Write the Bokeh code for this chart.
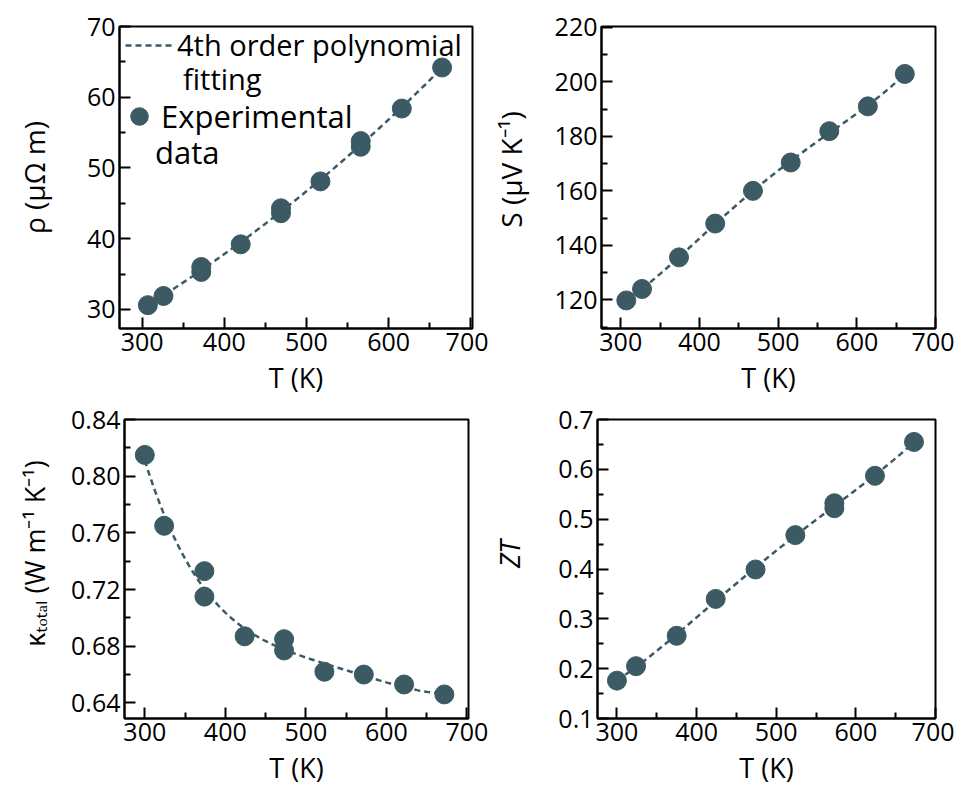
import numpy as np
from bokeh.plotting import figure
from bokeh.layouts import column, row
from bokeh.models import (Range1d, FixedTicker, PrintfTickFormatter,
                          Legend, LegendItem)
from bokeh.embed import file_html
from bokeh.resources import INLINE

# ---------------- data ----------------
T_rho = [307, 326, 372, 372, 420, 469, 469, 517, 566, 566, 616, 665]
rho = [30.6, 31.9, 35.3, 36.0, 39.2, 43.6, 44.3, 48.1, 53.0, 53.8, 58.4, 64.2]

T_S = [307, 327, 374, 420, 468, 516, 565, 614, 661]
S = [119.8, 124.0, 135.6, 148.0, 160.0, 170.4, 181.9, 191.0, 202.9]

T_k = [300, 324, 374, 374, 424, 473, 473, 523, 572, 622, 672]
kappa = [0.815, 0.765, 0.733, 0.715, 0.687, 0.685, 0.677, 0.662, 0.660, 0.653, 0.646]

T_zt = [300, 324, 375, 424, 474, 524, 573, 573, 624, 673]
ZT = [0.176, 0.205, 0.266, 0.340, 0.399, 0.468, 0.522, 0.532, 0.587, 0.655]

x_ticks = [300, 400, 500, 600, 700]
x_minor = [350, 450, 550, 650]
rho_ticks = [30, 40, 50, 60, 70]
rho_minor = [35, 45, 55, 65]
S_ticks = [120, 140, 160, 180, 200, 220]
S_minor = [110, 130, 150, 170, 190, 210]
k_ticks = [0.64, 0.68, 0.72, 0.76, 0.80, 0.84]
k_minor = [0.66, 0.70, 0.74, 0.78, 0.82]
zt_ticks = [0.1, 0.2, 0.3, 0.4, 0.5, 0.6, 0.7]
zt_minor = [0.15, 0.25, 0.35, 0.45, 0.55, 0.65]

x_title = "T (K)"
rho_title = "ρ (μΩ m)"
S_title = "\u2007S (μV K⁻¹)"
k_title = "\u2007\u2007κₜₒₜₐₗ (W m⁻¹ K⁻¹)"
zt_title = "\u2007\u2007ZT"

FONT = "Open Sans"
COL = "#3c5a63"


def make_fig(w, h, bl, br, bt, bb, xr, yr, yt, ym, yfmt):
    p = figure(width=w, height=h, output_backend="svg", toolbar_location=None,
               x_range=Range1d(*xr), y_range=Range1d(*yr),
               min_border_left=bl, min_border_right=br,
               min_border_top=bt, min_border_bottom=bb)
    p.grid.visible = False
    p.outline_line_color = "black"
    p.outline_line_width = 2
    p.outline_line_alpha = 1
    p.background_fill_color = "white"
    p.border_fill_color = "white"
    p.xaxis.ticker = FixedTicker(ticks=x_ticks, minor_ticks=x_minor)
    p.yaxis.ticker = FixedTicker(ticks=yt, minor_ticks=ym)
    p.yaxis.formatter = PrintfTickFormatter(format=yfmt)
    for ax in (p.xaxis[0], p.yaxis[0]):
        ax.axis_line_width = 2
        ax.axis_line_color = "black"
        ax.major_tick_in = 11
        ax.major_tick_out = 0
        ax.minor_tick_in = 6
        ax.minor_tick_out = 0
        ax.major_tick_line_width = 2
        ax.minor_tick_line_width = 2
        ax.major_label_text_font = FONT
        ax.major_label_text_font_size = "25px"
        ax.major_label_text_color = "black"
        ax.major_label_standoff = 4
        ax.axis_label_text_font = FONT
        ax.axis_label_text_font_style = "normal"
        ax.axis_label_text_color = "black"
    p.xaxis.axis_label = x_title
    p.xaxis.axis_label_text_font_size = "27px"
    p.xaxis.axis_label_standoff = 5
    return p


def plot_series(p, T, y):
    cx = np.linspace(min(T), max(T), 200)
    cy = np.polyval(np.polyfit(T, y, 4), cx)
    r_line = p.line(cx, cy, line_color=COL, line_width=2.5, line_dash="6 4")
    r_pts = p.scatter(T, y, size=19, fill_color=COL, line_color=COL)
    return r_line, r_pts


def leg(p, label, rend, loc, gw, gh, standoff, size):
    lg = Legend(items=[LegendItem(label=label, renderers=[rend])],
                location=loc, margin=0, padding=0, spacing=0,
                glyph_width=gw, glyph_height=gh, label_standoff=standoff,
                label_height=10, label_width=10,
                label_text_font=FONT, label_text_font_size=f"{size}px",
                label_text_color="black",
                background_fill_alpha=0, border_line_alpha=0)
    p.add_layout(lg)


# ---- panel 1 : resistivity ----
p1 = make_fig(488, 400, 119, 16, 26, 72, (272.5, 702), (27.3, 70),
              rho_ticks, rho_minor, "%d")
l1, s1 = plot_series(p1, T_rho, rho)
p1.yaxis.axis_label = rho_title
p1.yaxis.axis_label_text_font_size = "28px"
p1.yaxis.axis_label_standoff = 31
leg(p1, "4th order polynomial", l1, (6, 264), 50, 36, 2, 29)
leg(p1, "fitting", l1, (64, 230), 0, 36, 0, 29)
leg(p1, "Experimental", s1, (-2, 187), 44, 50, 0, 31)
leg(p1, "data", s1, (36, 155), 0, 36, 0, 31)

# ---- panel 2 : Seebeck ----
p2 = make_fig(466, 400, 102, 19, 25, 72, (275.5, 700), (109.5, 220.3),
              S_ticks, S_minor, "%d")
plot_series(p2, T_S, S)
p2.yaxis.axis_label = S_title
p2.yaxis.axis_label_text_font_size = "28px"
p2.yaxis.axis_label_standoff = 22

# ---- panel 3 : thermal conductivity ----
p3 = make_fig(488, 388, 124, 20, 18, 66, (274.8, 702), (0.629, 0.84),
              k_ticks, k_minor, "%.2f")
plot_series(p3, T_k, kappa)
p3.yaxis.axis_label = k_title
p3.yaxis.axis_label_text_font_size = "27px"
p3.yaxis.axis_label_standoff = 15

# ---- panel 4 : ZT ----
p4 = make_fig(466, 388, 98, 19, 19, 67, (275.6, 700), (0.1, 0.7),
              zt_ticks, zt_minor, "%.1f")
plot_series(p4, T_zt, ZT)
p4.yaxis.axis_label = zt_title
p4.yaxis.axis_label_text_font_size = "27px"
p4.yaxis.axis_label_text_font_style = "italic"
p4.yaxis.axis_label_standoff = 27

layout = column(row(p1, p2), row(p3, p4))
open("out.html", "w").write(file_html(layout, INLINE))
